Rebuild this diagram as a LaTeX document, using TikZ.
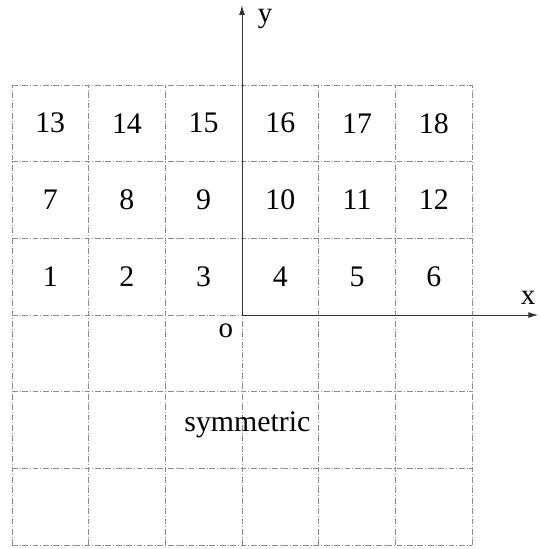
\documentclass[tikz,border=0pt]{standalone}
\usepackage{fontspec}
\setmainfont{Liberation Serif}
\usepackage{tikz}
\usetikzlibrary{arrows.meta,positioning,calc}

\begin{document}
\begin{tikzpicture}[x=1.4cm, y=1.4cm,
  gridline/.style={black!45, densely dash dot, line width=0.4pt},
  axis/.style={-{Latex[length=5pt,width=3pt]}, black!80, line width=0.5pt},
  cellnum/.style={font=\fontsize{15.5}{17}\selectfont, inner sep=1pt},
  axlabel/.style={font=\fontsize{15}{17}\selectfont, inner sep=1pt},
]
\useasboundingbox (-3.155,-3.05) rectangle (3.885,4.107);

%% ── Grid: 6 x 6 cells ──
\foreach \k in {-3,...,3} {
  \draw[gridline] (\k,-3) -- (\k,3);
  \draw[gridline] (-3,\k) -- (3,\k);
}

%% ── Cell numbers (three rows above the x axis) ──
\foreach \n in {1,...,18} {
  \pgfmathtruncatemacro{\col}{mod(\n-1,6)}
  \pgfmathtruncatemacro{\row}{int((\n-1)/6)}
  \node[cellnum] (c\n) at (-2.5+\col, 0.5+\row) {\n};
}

%% ── Axes ──
\coordinate (o) at (0,0);
\coordinate (xend) at (3.86,0);
\coordinate (yend) at (0,4.04);
\draw[axis] (o) -- (xend);
\draw[axis] (o) -- (yend);
\node[axlabel] (xlab) at (3.73,0.23) {x};
\node[axlabel] (ylab) at (0.30,3.86) {y};
\node[axlabel] (olab) at (-0.21,-0.20) {o};

%% ── Lower half ──
\node[cellnum] (sym) at (0.07,-1.43) {symmetric};
\end{tikzpicture}
\end{document}
